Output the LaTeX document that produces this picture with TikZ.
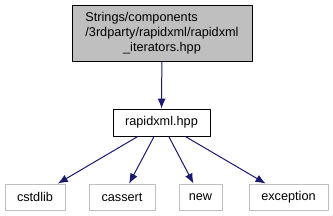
\documentclass[tikz,border=0pt]{standalone}
\usepackage{fontspec}
\setmainfont{Liberation Sans}
\usepackage{tikz}
\usetikzlibrary{arrows.meta}

\definecolor{edgeblue}{HTML}{191970}
\definecolor{boxgray}{HTML}{BFBFBF}

\begin{document}
\begin{tikzpicture}[x=1bp, y=-1bp, line join=round,
  every node/.style={font=\fontsize{12.7bp}{15bp}\selectfont, inner sep=0pt, minimum height=26bp},
  mainfile/.style={draw=black, fill=boxgray, line width=0.9bp, minimum width=180bp, minimum height=56bp},
  incfile/.style={draw=black, fill=white, line width=0.9bp, minimum width=97bp, minimum height=27bp},
  sysfile/.style={draw=boxgray, fill=white, line width=0.9bp},
  dep/.style={-{Latex[length=10bp,width=8bp]}, edgeblue, line width=1bp}]

\useasboundingbox (0,0) rectangle (333,216);

% File nodes
\node[mainfile] (iter) at (162,33) {\begin{tabular}{@{}l@{}}Strings/components\\/3rdparty/rapidxml/rapidxml\\\multicolumn{1}{@{}c@{}}{\_iterators.hpp}\end{tabular}};
\node[incfile] (rapid) at (161.5,122.5) {rapidxml.hpp};

% System headers
\node[sysfile, minimum width=60bp] (cstdlib) at (35,197) {cstdlib};
\node[sysfile, minimum width=66bp] (cassert) at (122,197) {cassert};
\node[sysfile, minimum width=43bp] (new) at (200.5,197) {new};
\node[sysfile, minimum width=79bp] (exception) at (288.5,197) {exception};

% Edges
\draw[dep] (iter) -- (rapid);
\draw[dep] (rapid) -- (cstdlib);
\draw[dep] (rapid) -- (cassert);
\draw[dep] (rapid) -- (new);
\draw[dep] (rapid) -- (exception);

\end{tikzpicture}
\end{document}
